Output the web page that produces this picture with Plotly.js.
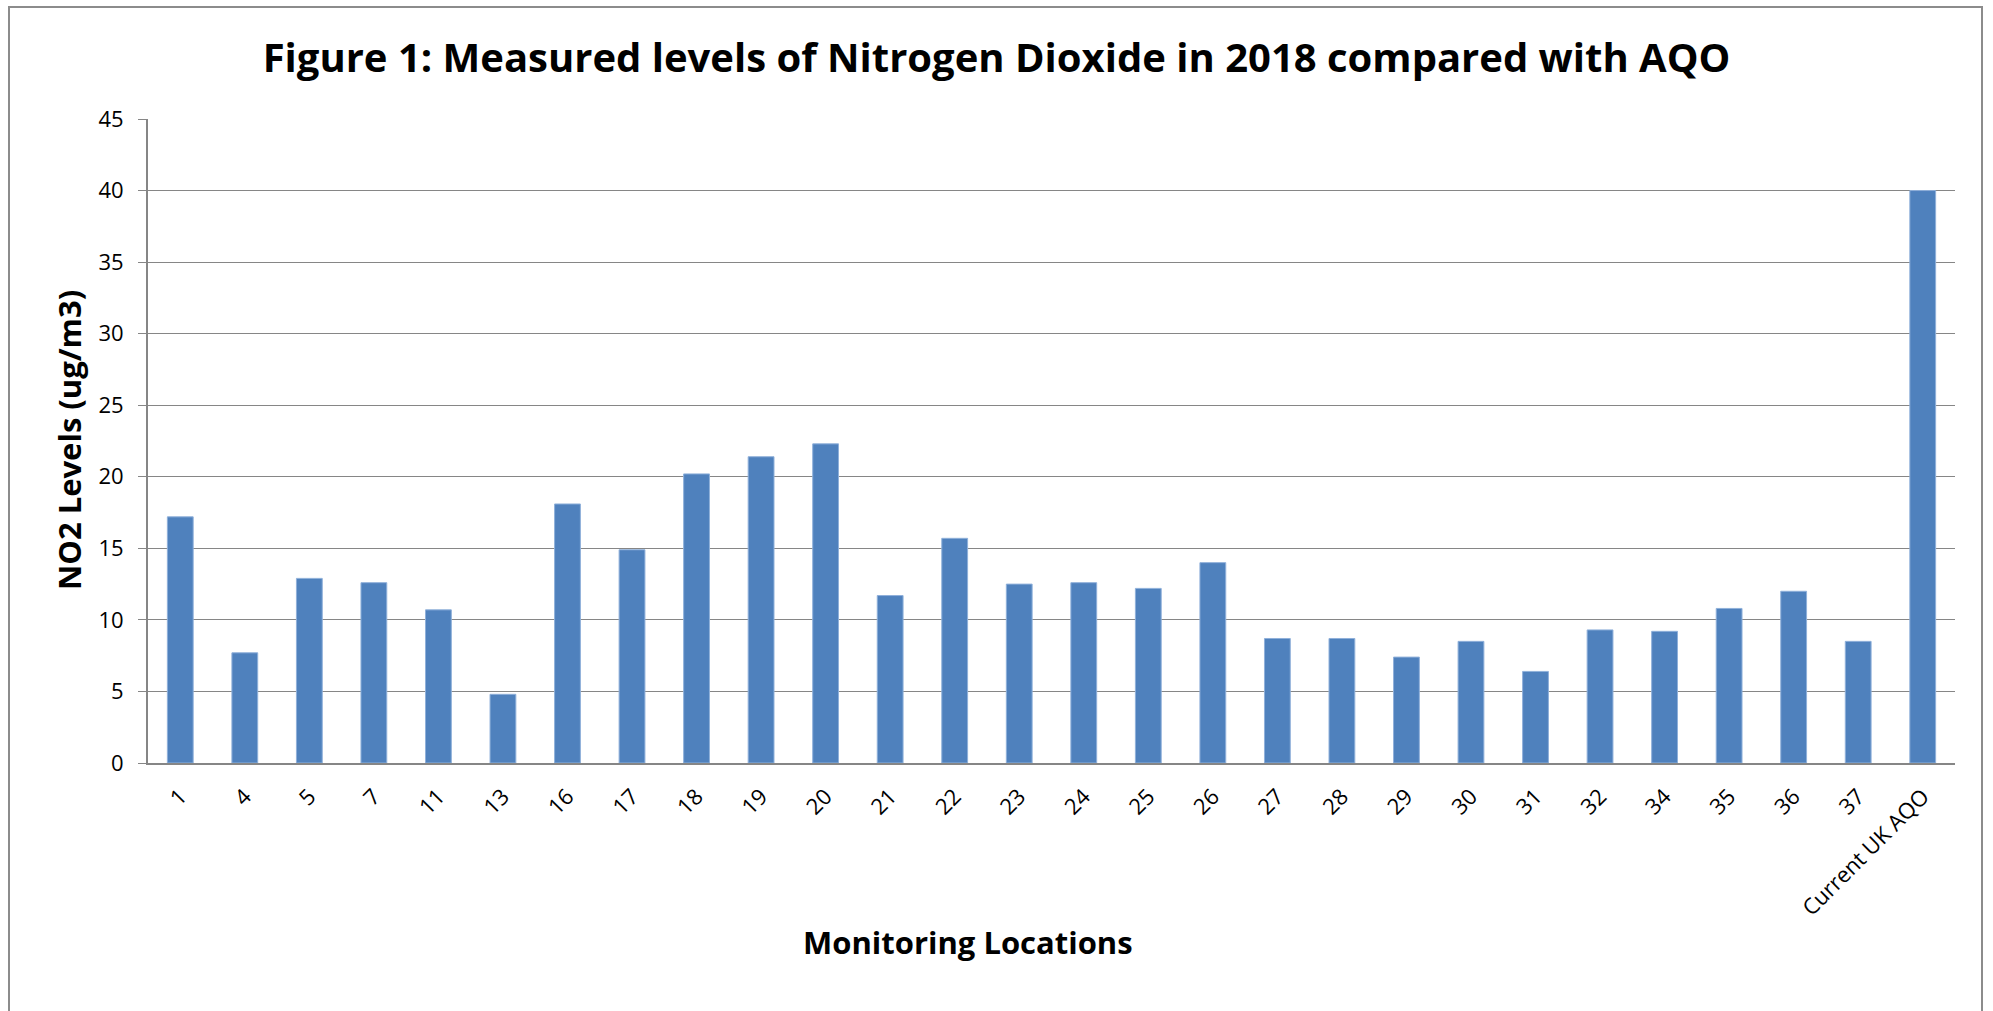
<!DOCTYPE html>
<html>
<head>
<meta charset="utf-8">
<script src="https://cdn.plot.ly/plotly-3.0.1.min.js"></script>
<style>
  html, body { margin: 0; padding: 0; background: #ffffff; }
  #wrap { position: relative; width: 1993px; height: 1011px; overflow: hidden; }
  #chart { position: absolute; left: 0; top: 0; width: 1993px; height: 1011px; }
  #frame { position: absolute; left: 8px; top: 6px; width: 1975px; height: 1030px;
           border: 2px solid #8c8c8c; pointer-events: none; box-sizing: border-box; }
</style>
</head>
<body>
<div id="wrap">
  <div id="chart"></div>
  <div id="frame"></div>
</div>
<script>
const locations = ["1", "4", "5", "7", "11", "13", "16", "17", "18", "19", "20", "21", "22", "23",
                   "24", "25", "26", "27", "28", "29", "30", "31", "32", "34", "35", "36", "37",
                   "Current UK AQO"];
const no2Levels = [17.2, 7.7, 12.9, 12.6, 10.7, 4.8, 18.1, 14.9, 20.2, 21.4, 22.3, 11.7, 15.7, 12.5,
                   12.6, 12.2, 14.0, 8.7, 8.7, 7.4, 8.5, 6.4, 9.3, 9.2, 10.8, 12.0, 8.5,
                   40];
const yTicks = [0, 5, 10, 15, 20, 25, 30, 35, 40, 45];

const titleText = "Figure 1: Measured levels of Nitrogen Dioxide in 2018 compared with AQO";
const xTitleText = "Monitoring Locations";
const yTitleText = "NO2 Levels (ug/m3)";

const gridColor = "#868686";
const barColor = "#4F81BD";

const trace = {
  type: "bar",
  x: locations,
  y: no2Levels,
  marker: { color: barColor, line: { color: "#8FB0DA", width: 1 } },
  hoverinfo: "x+y"
};

const layout = {
  width: 1993,
  height: 1011,
  paper_bgcolor: "rgba(255,255,255,0)",
  plot_bgcolor: "#ffffff",
  margin: { l: 148, r: 38, t: 119, b: 248, pad: 0 },
  bargap: 0.6,
  showlegend: false,
  font: { family: "Open Sans, sans-serif", color: "#000000" },
  title: {
    text: "<b>" + titleText + "</b>",
    font: { family: "Open Sans, sans-serif", size: 40, color: "#000000" },
    xref: "container", x: 0.5, xanchor: "center",
    yref: "container", y: 1 - 58 / 1011, yanchor: "middle"
  },
  xaxis: {
    type: "category",
    tickangle: -45,
    tickfont: { family: "Open Sans, sans-serif", size: 22, color: "#000000" },
    showline: true, linecolor: gridColor, linewidth: 2,
    showgrid: false, zeroline: false,
    ticks: "", ticklabelstandoff: 10,
    fixedrange: true
  },
  yaxis: {
    range: [0, 45],
    tickvals: yTicks,
    ticktext: yTicks.map(String),
    tickfont: { family: "Open Sans, sans-serif", size: 22, color: "#000000" },
    showline: true, linecolor: gridColor, linewidth: 2,
    showgrid: true, gridcolor: gridColor, gridwidth: 1,
    zeroline: false,
    ticks: "outside", ticklen: 8, tickcolor: gridColor, tickwidth: 1,
    ticklabelstandoff: 10,
    fixedrange: true
  },
  annotations: [
    {
      text: "<b>" + xTitleText + "</b>",
      xref: "paper", yref: "paper",
      x: (968 - 148) / 1807, y: (763 - 942) / 644,
      xanchor: "center", yanchor: "middle",
      showarrow: false,
      font: { family: "Open Sans, sans-serif", size: 31, color: "#000000" }
    },
    {
      text: "<b>" + yTitleText + "</b>",
      xref: "paper", yref: "paper",
      x: (69 - 148) / 1807, y: (763 - 440) / 644,
      xanchor: "center", yanchor: "middle",
      textangle: -90,
      showarrow: false,
      font: { family: "Open Sans, sans-serif", size: 31, color: "#000000" }
    }
  ]
};

Plotly.newPlot("chart", [trace], layout, { displayModeBar: false, staticPlot: false });
</script>
</body>
</html>
